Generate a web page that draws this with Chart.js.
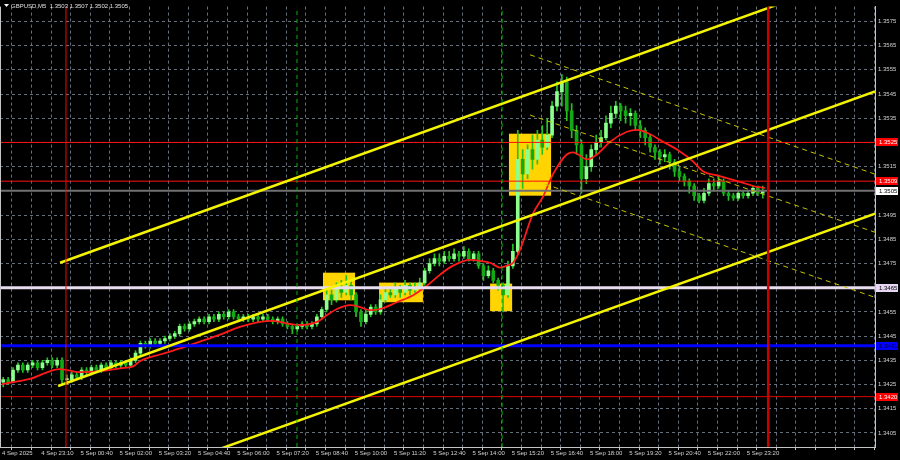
<!DOCTYPE html>
<html>
<head>
<meta charset="utf-8">
<script src="https://cdn.jsdelivr.net/npm/chart.js@4.4.1/dist/chart.umd.min.js"></script>
<style>
  html, body { margin: 0; background: #000; }
  canvas { display: block; }
</style>
</head>
<body>
<canvas id="chart" width="900" height="460"></canvas>
<script>
// GBPUSD M5, 4-5 Sep 2025. candle / MA / object values are pips above BASE
const BASE = 1.3400;

const timeLabels = ['4 Sep 2025', '4 Sep 23:10', '5 Sep 00:40', '5 Sep 02:00', '5 Sep 03:20',
  '5 Sep 04:40', '5 Sep 06:00', '5 Sep 07:20', '5 Sep 08:40', '5 Sep 10:00', '5 Sep 11:20',
  '5 Sep 12:40', '5 Sep 14:00', '5 Sep 15:20', '5 Sep 16:40', '5 Sep 18:00', '5 Sep 19:20',
  '5 Sep 20:40', '5 Sep 22:00', '5 Sep 23:20'];
const priceTicks = ['1.3405', '1.3415', '1.3425', '1.3435', '1.3445', '1.3455', '1.3465', '1.3475',
  '1.3485', '1.3495', '1.3505', '1.3515', '1.3525', '1.3535', '1.3545', '1.3555', '1.3565', '1.3575'];

// one candle per two M5 bars
const opens = [26,27,26,31,33,31,33,34,32,34, 35,33,35,27,27,29,28,31,30,32,
  31,33,32,34,33,34,33,35,38,42, 41,43,42,43,44,45,46,49,48,50,
  51,52,51,53,52,54,53,55,53,52, 53,52,53,52,53,52,51,52,50,49,
  48,49,50,49,50,53,56,62,60,65, 63,66,62,55,51,54,57,55,60,63,
  62,65,63,66,64,65,67,72,75,77, 76,78,77,79,78,80,77,79,74,70,
  72,68,66,62,74,80,118,112,122,118, 126,123,128,140,146,150,138,130,124,110,
  115,122,125,127,133,137,140,138,136,137, 132,130,127,123,121,119,120,117,113,111,
  109,107,103,101,104,108,107,109,104,103, 102,104,103,104,106,104];
const highs = [28,28,32,34,34,34,35,35,35,36, 36,36,36,29,30,30,32,32,33,33,
  34,34,35,35,35,35,36,39,43,43, 44,44,44,45,46,47,50,50,51,52,
  53,53,54,54,55,55,56,56,54,54, 54,54,54,54,54,53,53,53,51,50,
  50,51,51,51,54,57,64,64,67,68, 70,68,63,56,56,58,58,62,65,65,
  67,66,68,67,67,69,73,77,79,79, 80,80,81,80,82,81,80,80,75,74,
  73,69,67,76,83,130,122,124,128,130, 132,135,142,150,153,152,141,132,126,120,
  124,128,130,136,140,142,141,140,139,138, 134,131,128,124,122,122,121,118,115,112,
  110,108,104,106,110,110,111,110,105,104, 105,105,105,107,107,107];
const lows = [24,25,26,30,30,30,32,31,31,33, 32,32,25,25,26,27,27,29,29,30,
  30,31,31,32,32,32,32,34,37,40, 40,41,41,42,43,44,45,47,47,49,
  50,50,50,51,51,52,52,52,51,51, 51,51,51,51,51,50,50,49,48,46,
  47,48,48,48,49,52,55,58,59,61, 62,60,53,49,50,53,54,54,59,61,
  61,61,62,62,63,64,66,71,74,74, 75,76,76,76,77,76,76,73,68,69,
  67,64,55,61,73,79,106,110,114,116, 120,122,127,138,140,134,127,120,104,108,
  113,120,123,126,131,135,134,133,132,130, 127,124,121,118,116,117,114,111,109,107,
  104,101,100,100,103,105,106,103,101,101, 101,102,102,103,103,102];
const closes = [27,26,31,33,31,33,34,32,34,35, 33,35,27,27,29,28,31,30,32,31,
  33,32,34,33,34,33,35,38,42,41, 43,42,43,44,45,46,49,48,50,51,
  52,51,53,52,54,53,55,53,52,53, 52,53,52,53,52,51,52,50,49,48,
  49,50,49,50,53,56,62,60,65,63, 66,62,55,51,54,57,55,60,63,62,
  65,63,66,64,65,67,72,75,77,76, 78,77,79,78,80,77,79,74,70,72,
  68,66,62,74,80,118,112,122,118,126, 123,128,140,146,150,138,130,124,110,115,
  122,125,127,133,137,140,138,136,137,132, 130,127,123,121,119,120,117,113,111,109,
  107,103,101,104,108,107,109,104,103,102, 104,103,104,106,104,105];

// red moving average (bar index, pips)
const maBars = [0,11.4,23.7,31.8,40,48.2,53.5,56.3,64.5,72.7, 80.8,89,97.1,105.3,110.6,117.6,121.6,128.6,132.7,136.7,
  142,146.1,150.2,154.3,161.2,167.8,173.5,178.8,184.1,191, 195.1,199.2,203.3,206.1,208.6,211.4,216.7,220.8,224.9,230.6,
  233.1,238.8,242.9,248.2,255.1,259.2,263.3,269.8,276.7,282, 286.1,293,301.2,308.2,311.4];
const maPips = [25.2,27.3,31.4,30.1,30.5,31.7,32.5,34.6,37.4,39.9, 42.7,45.6,48.8,50.9,51.3,50,49.6,50.9,53.7,56.2,
  57.8,57,55.7,56.2,59,61.9,65.9,70.4,74.1,76.5, 76.1,75.3,73.3,74.1,75.3,80.6,95.6,102.6,111.9,120.1,
  120.9,118,120.1,125.3,129.4,130.2,129,125.3,121.3,117.2, 113.1,111.1,108.7,106.6,106.2];

// horizontal levels
const levelPrices = [1.3525, 1.3509, 1.3505, 1.3465, 1.3441, 1.3420];

// rising channel (solid yellow) and falling channel (dashed)
const channelFromBar = [23.7, 22.9, 60.0];
const channelFromPips = [75.3, 24.4, -12.1];
const channelToBar = [356.3, 356.3, 356.3];
const channelToPips = [196.4, 146.1, 95.6];
const fallFromBar = [215.5, 215.5, 221.6];
const fallFromPips = [161.2, 136.3, 107.8];
const fallToBar = [356.3, 356.3, 356.3];
const fallToPips = [111.9, 87.9, 61.0];

// vertical markers (bar index)
const dayLines = [26.1, 312.7];
const sessionLines = [120.4, 204.1];

// highlighted zones
const zoneFromBar = [131.0, 153.9, 199.2, 206.9];
const zoneToBar = [144.1, 171.8, 208.2, 224.1];
const zoneTopPips = [71.2, 67.1, 66.7, 128.6];
const zoneBottomPips = [59.8, 59.0, 55.3, 103.0];

const X_MIN = -0.82, X_MAX = 356.3;
const Y_MIN = 1.33992, Y_MAX = 1.35811;

const FONT = 'Liberation Sans';
const TEXT = '#d2d2d2';
const GRID = '#66707c';
const FRAME = '#c4c4c4';
const BULL = '#8cff8c';
const BEAR = '#12aa12';
const WICK = '#22c422';

const toPrice = p => BASE + p / 10000;
const candleX = i => i * 2 + 0.5;

const wickData = highs.map((h, i) => ({ x: candleX(i), y: [toPrice(lows[i]), toPrice(h)] }));
const bodyData = opens.map((o, i) => ({ x: candleX(i), y: [toPrice(o), toPrice(closes[i])] }));
const maData = maBars.map((b, i) => ({ x: b, y: toPrice(maPips[i]) }));

function line(points, color, width, dash, order) {
  return {
    type: 'line', data: points, borderColor: color, borderWidth: width,
    borderDash: dash || [], pointRadius: 0, fill: false, tension: 0, clip: 0, order: order
  };
}

const datasets = [
  { type: 'bar', data: wickData, backgroundColor: WICK, barThickness: 1, grouped: false,
    borderWidth: 0, minBarLength: 1, order: 11 },
  { type: 'bar', data: bodyData, barThickness: 3, grouped: false, borderWidth: 0, minBarLength: 1,
    backgroundColor: c => closes[c.dataIndex] >= opens[c.dataIndex] ? BULL : BEAR, order: 10 },
  Object.assign(line(maData, '#ff1a1a', 1.8, null, 6), { cubicInterpolationMode: 'monotone' })
];

const levelColors = ['#ff1010', '#ff1010', '#707070', '#e8dcf0', '#0000ff', '#e00000'];
const levelWidths = [1, 1, 2, 3, 3, 1];
levelPrices.forEach((p, i) => {
  datasets.push(line([{ x: X_MIN, y: p }, { x: X_MAX, y: p }], levelColors[i], levelWidths[i], null, 4));
});
channelFromBar.forEach((b, i) => {
  datasets.push(line([{ x: b, y: toPrice(channelFromPips[i]) }, { x: channelToBar[i], y: toPrice(channelToPips[i]) }],
    '#f4f400', 2.5, null, 3));
});
fallFromBar.forEach((b, i) => {
  datasets.push(line([{ x: b, y: toPrice(fallFromPips[i]) }, { x: fallToBar[i], y: toPrice(fallToPips[i]) }],
    '#c4c400', 1, [5, 4], 3));
});
dayLines.forEach((b, i) => {
  datasets.push(line([{ x: b, y: Y_MIN }, { x: b, y: Y_MAX }], i === 0 ? '#ff0000' : '#c80000', i === 0 ? 1 : 2.5, null, 2));
});
sessionLines.forEach(b => {
  datasets.push(line([{ x: b, y: Y_MIN }, { x: b, y: Y_MAX }], '#00b400', 1, [4, 4], 2));
});

const boxFill = ['#ff0000', '#ff0000', '#ffffff', '#e6d6f2', '#0000ff', '#ff0000'];
const boxText = ['#ffffff', '#ffffff', '#000000', '#000000', '#000040', '#ffffff'];

const overlay = {
  id: 'overlay',
  beforeDatasetsDraw(chart) {
    const { ctx, scales: { x, y } } = chart;
    ctx.save();
    ctx.fillStyle = '#ffd400';
    zoneFromBar.forEach((b, i) => {
      const x0 = x.getPixelForValue(b), x1 = x.getPixelForValue(zoneToBar[i]);
      const y0 = y.getPixelForValue(toPrice(zoneTopPips[i])), y1 = y.getPixelForValue(toPrice(zoneBottomPips[i]));
      ctx.fillRect(x0, y0, x1 - x0, y1 - y0);
    });
    ctx.restore();
  },
  afterDraw(chart) {
    const { ctx, chartArea, scales: { y } } = chart;
    ctx.save();
    // left frame
    ctx.strokeStyle = FRAME;
    ctx.lineWidth = 1;
    ctx.beginPath();
    ctx.moveTo(chartArea.left + 0.5, chartArea.top);
    ctx.lineTo(chartArea.left + 0.5, chartArea.bottom);
    ctx.stroke();

    // price boxes on the right axis
    ctx.font = '6px "' + FONT + '"';
    ctx.textBaseline = 'middle';
    ctx.textAlign = 'left';
    levelPrices.forEach((p, i) => {
      const py = Math.round(y.getPixelForValue(p));
      ctx.fillStyle = boxFill[i];
      ctx.fillRect(chartArea.right + 1, py - 4, chart.width - chartArea.right - 3, 8);
      ctx.fillStyle = boxText[i];
      ctx.fillText(p.toFixed(4), chartArea.right + 4, py + 0.5);
    });

    // symbol header
    ctx.fillStyle = '#ffffff';
    ctx.beginPath();
    ctx.moveTo(4, 4);
    ctx.lineTo(9, 4);
    ctx.lineTo(6.5, 7);
    ctx.closePath();
    ctx.fill();
    ctx.fillStyle = '#e0e0e0';
    ctx.fillText('GBPUSD,M5  1.3503 1.3507 1.3502 1.3505', 11, 6);
    ctx.restore();
  }
};

new Chart(document.getElementById('chart'), {
  type: 'bar',
  data: { datasets },
  plugins: [overlay],
  options: {
    responsive: false,
    animation: false,
    devicePixelRatio: 1,
    layout: { padding: 0, autoPadding: false },
    plugins: { legend: { display: false }, tooltip: { enabled: false }, title: { display: false } },
    scales: {
      x: {
        type: 'linear', min: X_MIN, max: X_MAX, offset: false,
        afterFit: s => { s.height = 13; },
        afterBuildTicks: s => {
          const t = [];
          for (let b = 0; b <= X_MAX; b += 8) t.push({ value: b });
          s.ticks = t;
        },
        ticks: {
          autoSkip: false, maxRotation: 0, minRotation: 0, align: 'start', padding: 0,
          color: TEXT, font: { family: FONT, size: 6 },
          callback: v => (v % 16 === 0 && timeLabels[v / 16]) ? timeLabels[v / 16] : ''
        },
        grid: { color: GRID, lineWidth: 1, drawTicks: true, tickLength: 3, tickColor: FRAME, tickBorderDash: [] },
        border: { display: true, color: FRAME, width: 1, dash: [3, 3] }
      },
      y: {
        type: 'linear', position: 'right', min: Y_MIN, max: Y_MAX,
        afterFit: s => { s.width = 25; },
        afterBuildTicks: s => { s.ticks = priceTicks.map(t => ({ value: parseFloat(t) })); },
        ticks: {
          padding: 3, color: TEXT, font: { family: FONT, size: 6 },
          callback: v => v.toFixed(4)
        },
        grid: { color: GRID, lineWidth: 1, drawTicks: false },
        border: { display: true, color: FRAME, width: 1, dash: [3, 3] }
      }
    }
  }
});
</script>
</body>
</html>
